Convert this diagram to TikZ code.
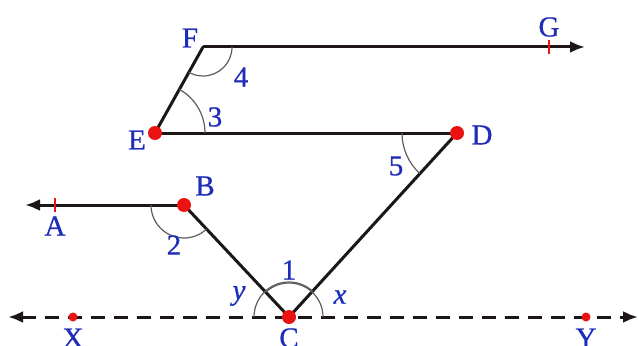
\documentclass[tikz,border=0pt]{standalone}
\usepackage{fontspec}
\setmainfont{Liberation Serif}
\newfontfamily\labfont[FakeBold=0.7]{Liberation Serif}
\usetikzlibrary{arrows.meta,calc}
\definecolor{lbl}{RGB}{30,45,185}
\definecolor{ln}{RGB}{28,22,22}
\definecolor{ptc}{RGB}{235,18,18}
\begin{document}
\begin{tikzpicture}[x=1pt,y=-1pt,
  seg/.style={draw=ln,line width=3pt},
  angarc/.style={draw=ln!70,line width=1.2pt},
  lab/.style={text=lbl,font=\labfont\fontsize{29}{31}\selectfont,inner sep=0pt},
  tick/.style={draw=ptc,line width=1.1pt},
  bigtip/.style={-{Latex[length=15pt,width=12pt]}},
  dashline/.style={draw=ln,line width=3pt,dash pattern=on 14pt off 9pt}]
\useasboundingbox[fill=white] (0,0) rectangle (639,345);
% points
\coordinate (F) at (203,47);
\coordinate (G) at (549,47);
\coordinate (Gend) at (585,47);
\coordinate (E) at (155,133);
\coordinate (D) at (457,133);
\coordinate (B) at (184,205);
\coordinate (A) at (55,205);
\coordinate (Aend) at (25,205);
\coordinate (C) at (289,317);
\coordinate (X) at (73,317);
\coordinate (Y) at (586,317);
\coordinate (Lend) at (8,317);
\coordinate (Rend) at (638,317);
% dashed line
\draw[dashline,{Latex[length=15pt,width=12pt]}-{Latex[length=15pt,width=12pt]}] (Lend) -- (Rend);
% solid segments
\draw[seg,bigtip] (F) -- (Gend);
\draw[seg,line cap=round] (F) -- (E);
\draw[seg] (E) -- (D);
\draw[seg,line cap=round] (D) -- (C);
\draw[seg,line cap=round] (C) -- (B);
\draw[seg,bigtip] (B) -- (Aend);
% ticks
\draw[tick] ($(G)+(0,-7)$) -- ($(G)+(0,7)$);
\draw[tick] ($(A)+(0,-7)$) -- ($(A)+(0,7)$);
% angle arcs
\draw[angarc] (F) ++(0:29) arc[start angle=0,end angle=119.2,radius=29];
\draw[angarc] (E) ++(-60.8:50) arc[start angle=-60.8,end angle=0,radius=50];
\draw[angarc] (D) ++(132.4:55) arc[start angle=132.4,end angle=180,radius=55];
\draw[angarc] (B) ++(46.8:33) arc[start angle=46.8,end angle=180,radius=33];
\draw[angarc] (C) ++(-180:35) arc[start angle=-180,end angle=-47.6,radius=35];
\draw[angarc] (C) ++(-133.2:34) arc[start angle=-133.2,end angle=0,radius=34];
% dots
\foreach \p in {E,D,B,C} \fill[ptc] (\p) circle[radius=7];
\foreach \p in {X,Y} \fill[ptc] (\p) circle[radius=4.5];
% labels
\node[lab] (lF) at (190,38) {F};
\node[lab] (lG) at (549,27) {G};
\node[lab] (lE) at (137,140) {E};
\node[lab] (lD) at (482,135) {D};
\node[lab] (lB) at (205,186) {B};
\node[lab] (lA) at (55,226) {A};
\node[lab] (lC) at (289,338) {C};
\node[lab] (lX) at (73,338) {X};
\node[lab] (lY) at (586,338) {Y};
\node[lab] (l4) at (241,77) {4};
\node[lab] (l3) at (215,117) {3};
\node[lab] (l5) at (396,166) {5};
\node[lab] (l2) at (174,245) {2};
\node[lab] (l1) at (289,270) {1};
\node[lab] (ly) at (239,296) {\itshape y};
\node[lab] (lx) at (340,297) {\itshape x};
\end{tikzpicture}
\end{document}
